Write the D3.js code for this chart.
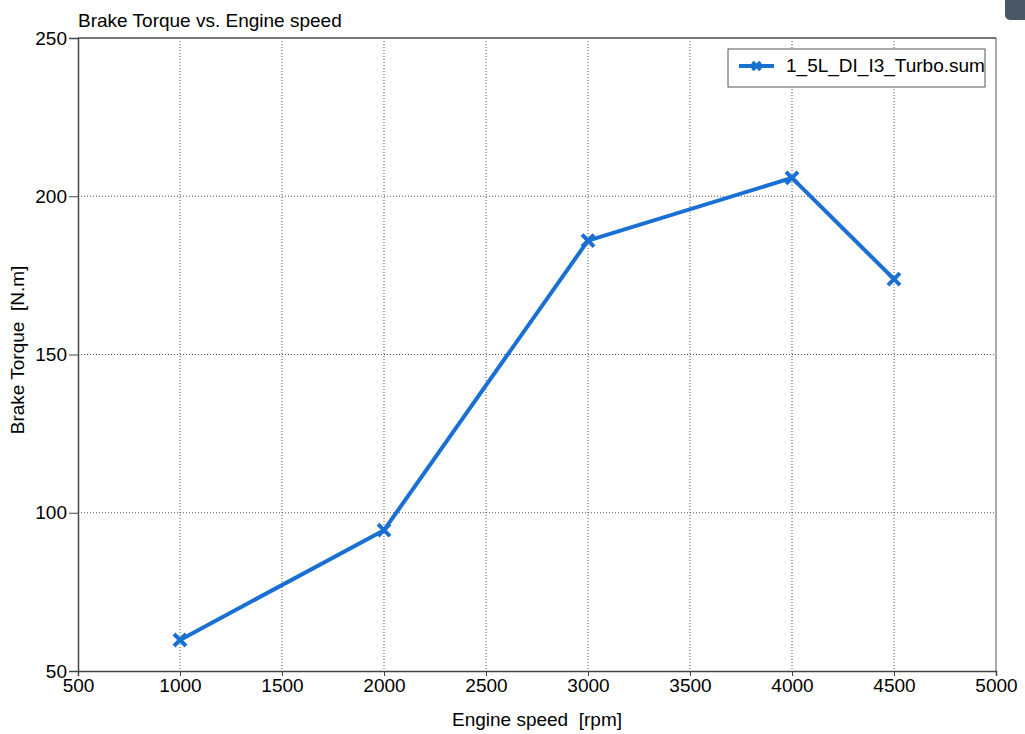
<!DOCTYPE html>
<html>
<head>
<meta charset="utf-8">
<script src="https://cdn.jsdelivr.net/npm/d3@7"></script>
<style>
  body { margin: 0; background: #fff; }
  svg { font-family: "Liberation Sans", Arial, sans-serif; }
  text { white-space: pre; }
</style>
</head>
<body>
<svg id="chart" width="1025" height="734"></svg>
<script>
const SVG = d3.select("#chart");
const MARGIN = { top: 38, left: 78, right: 29, bottom: 63 };
const WIDTH = 1025, HEIGHT = 734;
const INNERWIDTH = WIDTH - MARGIN.left - MARGIN.right;
const INNERHEIGHT = HEIGHT - MARGIN.top - MARGIN.bottom;
const FONTSIZE = "19px";

// data
const engineSpeed = [1000, 2000, 3000, 4000, 4500];
const brakeTorque = [59.8, 94.5, 186.0, 205.8, 173.8];
const xTicks = [500, 1000, 1500, 2000, 2500, 3000, 3500, 4000, 4500, 5000];
const yTicks = [50, 100, 150, 200, 250];
const seriesName = "1_5L_DI_I3_Turbo.sum";
const LINECOLOR = "#1a6fd2";

const xScale = d3.scaleLinear().domain([500, 5000]).range([0, INNERWIDTH]);
const yScale = d3.scaleLinear().domain([50, 250]).range([INNERHEIGHT, 0]);

const g = SVG.append("g")
  .attr("transform", "translate(" + MARGIN.left + "," + MARGIN.top + ")");

// grid
g.append("g")
  .selectAll("line")
  .data(xTicks.slice(1, -1))
  .join("line")
  .attr("x1", (d) => xScale(d))
  .attr("x2", (d) => xScale(d))
  .attr("y1", 0)
  .attr("y2", INNERHEIGHT)
  .attr("stroke", "#555")
  .attr("stroke-width", 1)
  .attr("stroke-dasharray", "1,2");
g.append("g")
  .selectAll("line")
  .data(yTicks.slice(1, -1))
  .join("line")
  .attr("x1", 0)
  .attr("x2", INNERWIDTH)
  .attr("y1", (d) => yScale(d))
  .attr("y2", (d) => yScale(d))
  .attr("stroke", "#555")
  .attr("stroke-width", 1)
  .attr("stroke-dasharray", "1,2");

// frame top/right
g.append("line")
  .attr("x1", 0).attr("x2", INNERWIDTH).attr("y1", 0).attr("y2", 0)
  .attr("stroke", "#777").attr("stroke-width", 2);
g.append("line")
  .attr("x1", INNERWIDTH).attr("x2", INNERWIDTH).attr("y1", 0).attr("y2", INNERHEIGHT)
  .attr("stroke", "#555").attr("stroke-width", 1);

// axes
const xAxis = g.append("g")
  .attr("transform", "translate(0," + INNERHEIGHT + ")")
  .call(d3.axisBottom(xScale).tickValues(xTicks).tickSize(5).tickPadding(3).tickFormat(d3.format("d")));
const yAxis = g.append("g")
  .call(d3.axisLeft(yScale).tickValues(yTicks).tickSize(9).tickPadding(2).tickFormat(d3.format("d")));
[xAxis, yAxis].forEach((ax) => {
  ax.select(".domain").attr("stroke", "#444").attr("stroke-width", 1.5);
  ax.selectAll(".tick line").attr("stroke", "#444");
  ax.selectAll(".tick text")
    .attr("fill", "#000")
    .style("font-size", FONTSIZE)
    .style("font-family", "'Liberation Sans', Arial, sans-serif");
});

// labels
SVG.append("text")
  .attr("x", MARGIN.left)
  .attr("y", 27)
  .style("font-size", FONTSIZE)
  .text("Brake Torque vs. Engine speed");
SVG.append("text")
  .attr("text-anchor", "middle")
  .attr("x", 537)
  .attr("y", 726)
  .style("font-size", FONTSIZE)
  .text("Engine speed  [rpm]");
SVG.append("text")
  .attr("text-anchor", "middle")
  .attr("transform", "translate(24,350) rotate(-90)")
  .style("font-size", FONTSIZE)
  .text("Brake Torque  [N.m]");

// series
const pts = engineSpeed.map((d, i) => [d, brakeTorque[i]]);
g.append("path")
  .datum(pts)
  .attr("fill", "none")
  .attr("stroke", LINECOLOR)
  .attr("stroke-width", 4)
  .attr("stroke-linejoin", "round")
  .attr("d", d3.line().x((d) => xScale(d[0])).y((d) => yScale(d[1])));

const markerPath = "M-6,-6L6,6M-6,6L6,-6";
g.append("g")
  .selectAll("path")
  .data(pts)
  .join("path")
  .attr("transform", (d) => "translate(" + xScale(d[0]) + "," + yScale(d[1]) + ")")
  .attr("d", markerPath)
  .attr("stroke", LINECOLOR)
  .attr("stroke-width", 4)
  .attr("fill", "none");

// legend
const legend = SVG.append("g").attr("transform", "translate(728,49)");
legend.append("rect")
  .attr("width", 257)
  .attr("height", 38)
  .attr("fill", "#fff")
  .attr("stroke", "#555")
  .attr("stroke-width", 1);
legend.append("line")
  .attr("x1", 11).attr("x2", 46).attr("y1", 17).attr("y2", 17)
  .attr("stroke", LINECOLOR).attr("stroke-width", 4);
legend.append("path")
  .attr("transform", "translate(28.5,17)")
  .attr("d", "M-4,-4L4,4M-4,4L4,-4")
  .attr("stroke", LINECOLOR).attr("stroke-width", 3.5);
legend.append("text")
  .attr("x", 58)
  .attr("y", 23)
  .style("font-size", FONTSIZE)
  .text(seriesName);

// corner widget
SVG.append("rect")
  .attr("x", 1005).attr("y", -6).attr("width", 24).attr("height", 26)
  .attr("rx", 5)
  .attr("fill", "#4a5866");
</script>
</body>
</html>
